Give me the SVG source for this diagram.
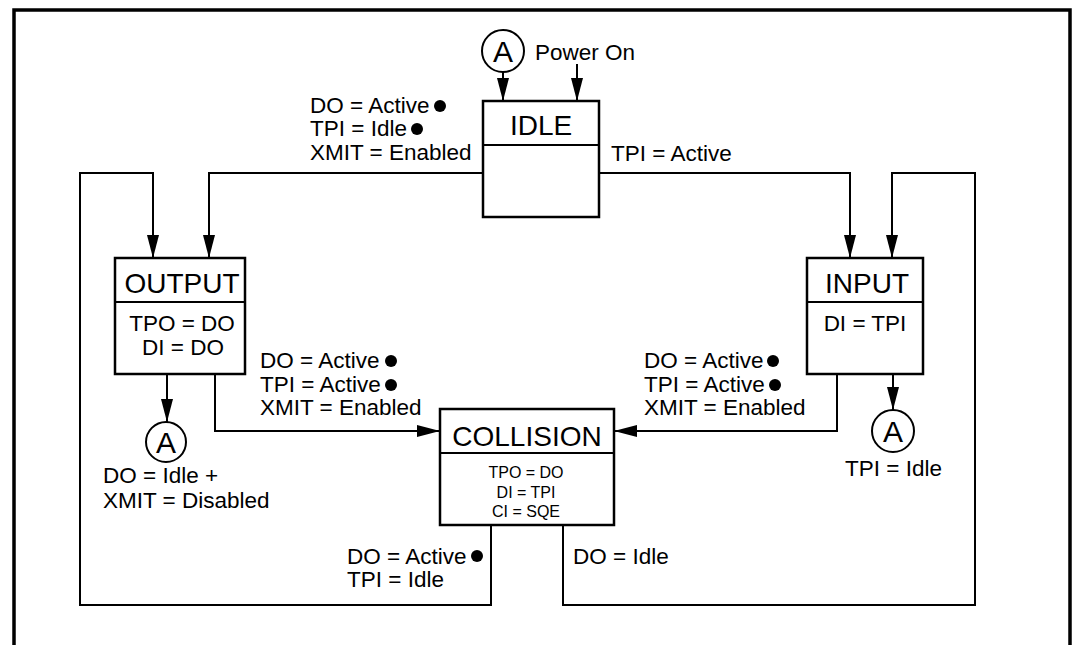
<svg xmlns="http://www.w3.org/2000/svg" width="1075" height="645" viewBox="0 0 1075 645">
<defs>
<marker id="ah" viewBox="0 0 23 12" refX="23" refY="6" markerWidth="23" markerHeight="12" markerUnits="userSpaceOnUse" orient="auto">
<path d="M0,0 L23,6 L0,12 Z" fill="#000"/>
</marker>
<style>
.t{font-family:"Liberation Sans",Arial,sans-serif;fill:#000}
.l{font-size:22.5px}
.h{font-size:28px}
.a{font-size:30px}
.s{font-size:16px}
.box{fill:#fff;stroke:#000;stroke-width:2.5}
.c{fill:none;stroke:#000;stroke-width:2}
.arr{fill:none;stroke:#000;stroke-width:2;marker-end:url(#ah)}
.dot{fill:#000}
</style>
</defs>
<rect x="0" y="0" width="1075" height="645" fill="#fff"/>
<g id="frame" fill="none" stroke="#000">
<path d="M14,645 L14,10 L1070,10 L1070,645" stroke-width="3.5"/>
</g>
<g id="connectors">
<path class="arr" d="M503,72 L503,101"/>
<path class="arr" d="M577,64 L577,101"/>
<path class="arr" d="M483,173 L209,173 L209,258"/>
<path class="arr" d="M599,173 L850,173 L850,258"/>
<path class="arr" d="M491,525 L491,605 L80,605 L80,173 L153,173 L153,258"/>
<path class="arr" d="M563,525 L563,605 L975,605 L975,173 L892,173 L892,258"/>
<path class="arr" d="M215,374 L215,431 L440,431"/>
<path class="arr" d="M837,374 L837,431 L614,431"/>
<path class="arr" d="M167,374 L167,422"/>
<path class="arr" d="M893,374 L893,410"/>
</g>
<g id="idle">
<rect class="box" x="483" y="101" width="116" height="116"/>
<line class="c" x1="483" y1="145" x2="599" y2="145" stroke-width="2.5"/>
<text class="t h" x="541" y="135" text-anchor="middle">IDLE</text>
</g>
<g id="output">
<rect class="box" x="115" y="258" width="130" height="116"/>
<line class="c" x1="115" y1="302" x2="245" y2="302" stroke-width="2.5"/>
<text class="t h" x="182" y="293" text-anchor="middle">OUTPUT</text>
<text class="t l" x="182" y="331" text-anchor="middle">TPO = DO</text>
<text class="t l" x="183" y="355" text-anchor="middle">DI = DO</text>
</g>
<g id="input">
<rect class="box" x="807" y="258" width="116" height="116"/>
<line class="c" x1="807" y1="302" x2="923" y2="302" stroke-width="2.5"/>
<text class="t h" x="867" y="293" text-anchor="middle">INPUT</text>
<text class="t l" x="865" y="331" text-anchor="middle">DI = TPI</text>
</g>
<g id="collision">
<rect class="box" x="440" y="409" width="174" height="116"/>
<line class="c" x1="440" y1="453" x2="614" y2="453" stroke-width="2.5"/>
<text class="t h" x="527" y="446" text-anchor="middle">COLLISION</text>
<text class="t s" x="526" y="478" text-anchor="middle">TPO = DO</text>
<text class="t s" x="526" y="498" text-anchor="middle">DI = TPI</text>
<text class="t s" x="526" y="517" text-anchor="middle">CI = SQE</text>
</g>
<g id="a-top">
<circle cx="503" cy="51" r="21" fill="#fff" stroke="#000" stroke-width="2"/>
<text class="t a" x="503" y="62" text-anchor="middle">A</text>
</g>
<g id="a-output">
<circle cx="166" cy="442" r="20" fill="#fff" stroke="#000" stroke-width="2"/>
<text class="t a" x="166" y="453" text-anchor="middle">A</text>
</g>
<g id="a-input">
<circle cx="893" cy="431" r="21" fill="#fff" stroke="#000" stroke-width="2"/>
<text class="t a" x="893" y="442" text-anchor="middle">A</text>
</g>
<g id="labels">
<text class="t l" x="535" y="60">Power On</text>
<text class="t l" x="310" y="113">DO = Active</text>
<circle class="dot" cx="440" cy="106" r="6"/>
<text class="t l" x="310" y="136">TPI = Idle</text>
<circle class="dot" cx="417" cy="129" r="6"/>
<text class="t l" x="310" y="160">XMIT = Enabled</text>
<text class="t l" x="611" y="161">TPI = Active</text>
<text class="t l" x="260" y="368">DO = Active</text>
<circle class="dot" cx="391" cy="361" r="6"/>
<text class="t l" x="260" y="392">TPI = Active</text>
<circle class="dot" cx="391" cy="385" r="6"/>
<text class="t l" x="260" y="415">XMIT = Enabled</text>
<text class="t l" x="644" y="368">DO = Active</text>
<circle class="dot" cx="773" cy="361" r="6"/>
<text class="t l" x="644" y="392">TPI = Active</text>
<circle class="dot" cx="775" cy="385" r="6"/>
<text class="t l" x="644" y="415">XMIT = Enabled</text>
<text class="t l" x="103" y="483">DO = Idle +</text>
<text class="t l" x="103" y="508">XMIT = Disabled</text>
<text class="t l" x="845" y="476">TPI = Idle</text>
<text class="t l" x="347" y="564">DO = Active</text>
<circle class="dot" cx="477" cy="556" r="6"/>
<text class="t l" x="347" y="587">TPI = Idle</text>
<text class="t l" x="573" y="564">DO = Idle</text>
</g>
</svg>
